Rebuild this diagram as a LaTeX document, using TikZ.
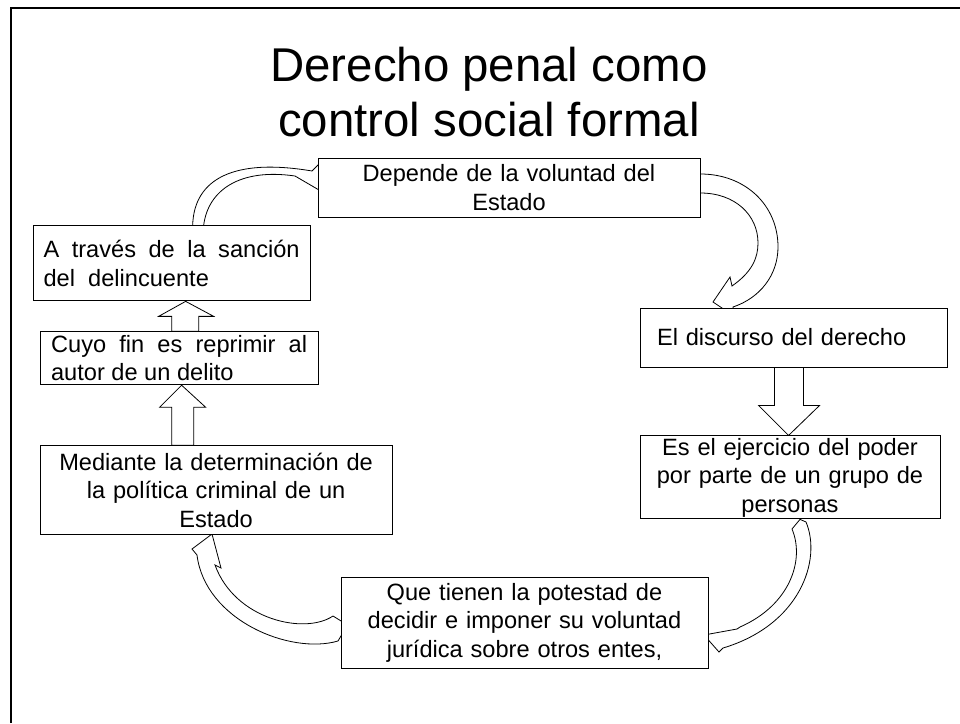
\documentclass[tikz,border=0pt]{standalone}
\usepackage{fontspec}
\setmainfont{Liberation Sans}
\usepackage{tikz}
\usetikzlibrary{positioning, calc, backgrounds}

\tikzset{
  box/.style={draw=black, fill=white, line width=0.9pt, inner sep=0pt,
    font=\fontsize{23.6}{28.5}\selectfont},
  blockarrow/.style={draw=black, fill=white, line width=0.8pt}
}

\begin{document}
\begin{tikzpicture}[x=1pt, y=-1pt]
\useasboundingbox (0,0) rectangle (960,723);
% frame
\draw[line width=2pt] (11,723) -- (11,8) -- (960,8);

% Add the boxes
\node[align=center, font=\fontsize{47.4}{55}\selectfont] (title) at (489,92)
  {Derecho penal como\\control social formal};
\node[box,
      minimum width=382pt, minimum height=59pt,
      text width=370pt, align=center
      ] (dep) at (509,187.5) {Depende de la voluntad del\\Estado};
\node[box,
      below left=8pt and 7pt of dep.south west,
      minimum height=75pt, text width=256pt, inner xsep=10.5pt,
      align=justify
      ] (sanc) {A través de la sanción del\ \ delincuente};
\node[box,
      below right=30pt and 7pt of sanc.south west,
      minimum height=53pt, text width=256pt, inner xsep=11pt,
      align=justify
      ] (fin) {Cuyo fin es reprimir al autor de un delito};
\node[box,
      below right=60pt and 0pt of fin.south west,
      minimum width=352pt, minimum height=89pt,
      text width=340pt, align=center
      ] (med) {Mediante la determinación de\\la política criminal de un\\Estado};
\node[box,
      minimum width=307pt, minimum height=59pt,
      text width=273pt, inner xsep=17pt, align=left
      ] (disc) at (793.5,337.5) {El discurso del derecho};
\node[box,
      below right=68pt and 0pt of disc.south west,
      minimum width=300pt, minimum height=83pt,
      text width=290pt, align=center
      ] (ejer) {Es el ejercicio del poder\\por parte de un grupo de\\personas};
\node[box,
      minimum width=367pt, minimum height=91pt,
      text width=355pt, align=center
      ] (pot) at (524.5,622.5) {Que tienen la potestad de\\decidir e imponer su voluntad\\jurídica sobre otros entes,};

% block arrows behind the boxes
\begin{scope}[on background layer]
  \draw[blockarrow] ($(fin.north west)+(132,0)$) |- ++(-13,-15)
    -- ($(sanc.south west)+(153,0)$) -- ++(28,15)
    -| ($(fin.north west)+(159,0)$) -- cycle;
  \draw[blockarrow] ($(med.north west)+(132,0)$) |- ++(-12,-38)
    -- ($(fin.south west)+(142,0)$) -- ++(24,22)
    -| ($(med.north west)+(154,0)$) -- cycle;
  \draw[blockarrow] ($(disc.south west)+(135,0)$) |- ++(-16,38)
    -- ($(ejer.north west)+(149,0)$) -- ++(31,-30)
    -| ($(disc.south west)+(164,0)$) -- cycle;

  \draw[blockarrow] ($(dep.east)+(0,-13.5)$)
    .. controls (745,174) and (778,205) .. (778,247)
    .. controls (778,275) and (760,298) .. (733,307)
    -- (734,316) -- (713,302) -- (730,277) -- (732,286)
    .. controls (752,272) and (758,258) .. (758,243)
    .. controls (758,215) and (735,193) .. ($(dep.east)+(0,5.5)$) -- cycle;
  \draw[blockarrow] ($(sanc.north west)+(160,0)$)
    .. controls (194,178) and (235,158) .. (312,171)
    -- (319,164) -- (330,178) -- (319,190) -- (295,176)
    .. controls (240,168) and (208,190) .. ($(sanc.north west)+(171,0)$) -- cycle;
  \draw[blockarrow] ($(pot.west)+(7,2.5)$) -- (333,616)
    .. controls (305,635) and (235,620) .. (215,565)
    -- (221,568) -- (212,534) -- (192,549) -- (197,555)
    .. controls (205,620) and (290,655) .. (338,641) -- cycle;
  \draw[blockarrow] ($(ejer.south)+(10,0)$) -- (806,522)
    .. controls (822,560) and (800,625) .. (723,648)
    -- (719,652) -- (704,635) -- (737,629) -- (740,627)
    .. controls (790,605) and (805,560) .. (792,529) -- cycle;
\end{scope}
\end{tikzpicture}
\end{document}
